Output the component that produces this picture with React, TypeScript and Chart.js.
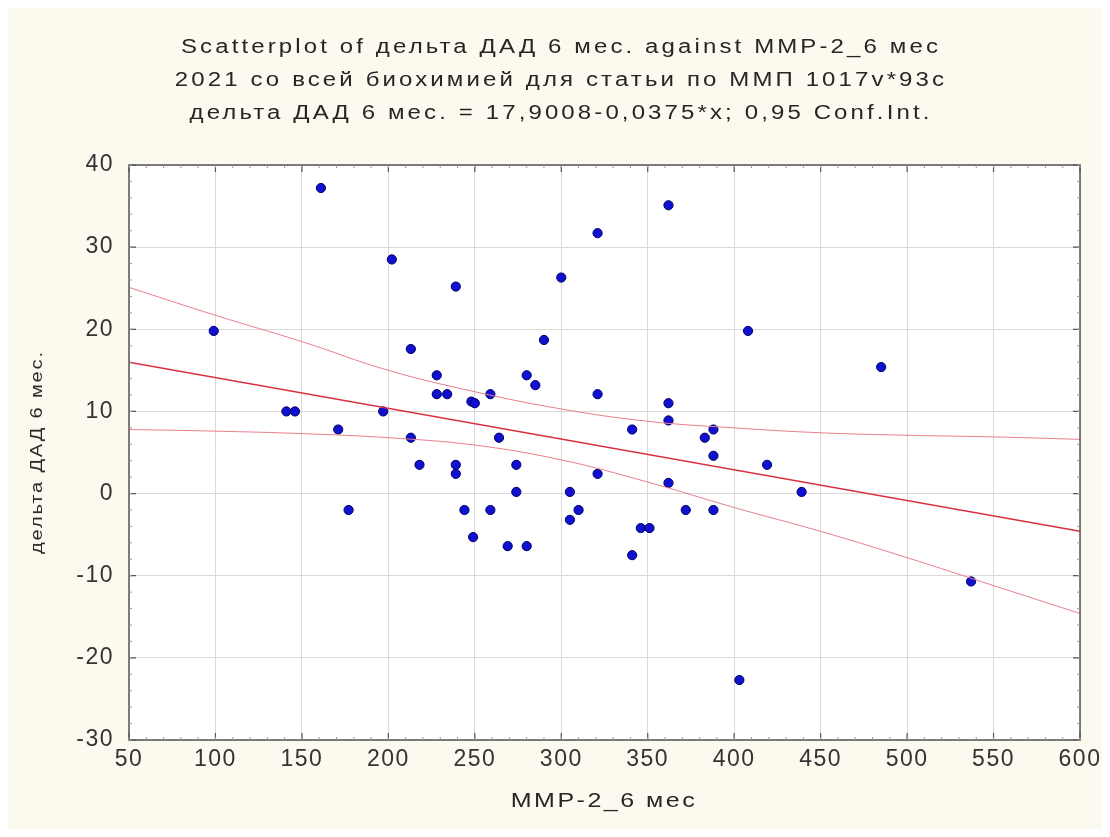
import React, { useEffect, useRef } from "react";
import { Chart, registerables } from "chart.js";

Chart.register(...registerables);

const titleLines = [
  "Scatterplot of дельта ДАД 6 мес. against MMP-2_6 мес",
  "2021 со всей биохимией для статьи по ММП 1017v*93c",
  "дельта ДАД 6 мес. = 17,9008-0,0375*x; 0,95 Conf.Int.",
];
const xAxisTitle = "MMP-2_6 мес";
const yAxisTitle = "дельта ДАД 6 мес.";

const xTicks = [50, 100, 150, 200, 250, 300, 350, 400, 450, 500, 550, 600];
const yTicks = [-30, -20, -10, 0, 10, 20, 30, 40];

const mmpValues = [
  161, 321, 202, 239, 300, 99, 213, 290, 228, 280, 285, 228, 234, 259, 321, 248, 250, 141, 146, 197,
  171, 213, 264, 321, 218, 239, 239, 274, 274, 305, 362, 408, 485, 362, 362, 341, 388, 383, 388, 419,
  362, 439, 177, 244, 259, 249, 269, 280, 305, 310, 372, 388, 346, 351, 341, 537, 403,
];
const deltaValues = [
  37.2, 31.7, 28.5, 25.2, 26.3, 19.8, 17.6, 18.7, 14.4, 14.4, 13.2, 12.1, 12.1, 12.1, 12.1, 11.2, 11.0, 10, 10, 10,
  7.8, 6.8, 6.8, 2.4, 3.5, 3.5, 2.4, 3.5, 0.2, 0.2, 35.1, 19.8, 15.4, 11.0, 8.9, 7.8, 7.8, 6.8, 4.6, 3.5,
  1.3, 0.2, -2.0, -2.0, -2.0, -5.3, -6.4, -6.4, -3.2, -2.0, -2.0, -2.0, -4.2, -4.2, -7.5, -10.7, -22.7,
];

const fitX = [50, 600];
const fitY = [16.0, -4.6];

const bandX = [50, 100, 150, 200, 250, 300, 350, 400, 450, 500, 550, 600];
const bandUpper = [25.1, 21.7, 18.5, 15.0, 12.4, 10.3, 8.8, 8.0, 7.4, 7.1, 6.9, 6.6];
const bandLower = [7.8, 7.6, 7.3, 6.8, 5.9, 4.1, 1.4, -1.7, -4.6, -7.8, -11.2, -14.6];

const W = 1102;
const H = 821;
const FONT = '"Liberation Sans", Arial, sans-serif';

const frame = {
  id: "frame",
  beforeDraw(chart: any) {
    const { ctx, chartArea: a } = chart;
    ctx.save();
    ctx.fillStyle = "#ffffff";
    ctx.fillRect(a.left, a.top, a.right - a.left, a.bottom - a.top);
    ctx.restore();
    ctx.letterSpacing = "1.5px";
  },
  afterDatasetsDraw(chart: any) {
    const { ctx, chartArea: a, scales } = chart;
    const xs = scales.x;
    const ys = scales.y;
    ctx.save();
    ctx.strokeStyle = "#555555";
    ctx.lineWidth = 1.5;
    ctx.strokeRect(a.left, a.top, a.right - a.left, a.bottom - a.top);
    ctx.lineWidth = 1.2;
    ctx.beginPath();
    for (const t of xTicks) {
      const p = xs.getPixelForValue(t);
      ctx.moveTo(p, a.bottom); ctx.lineTo(p, a.bottom - 7);
      ctx.moveTo(p, a.top); ctx.lineTo(p, a.top + 7);
    }
    for (const t of yTicks) {
      const p = ys.getPixelForValue(t);
      ctx.moveTo(a.left, p); ctx.lineTo(a.left + 7, p);
      ctx.moveTo(a.right, p); ctx.lineTo(a.right - 7, p);
    }
    ctx.stroke();
    ctx.strokeStyle = "#999999";
    ctx.lineWidth = 1;
    ctx.beginPath();
    for (let v = 50; v <= 600; v += 10) {
      const p = xs.getPixelForValue(v);
      ctx.moveTo(p, a.bottom); ctx.lineTo(p, a.bottom - 3);
      ctx.moveTo(p, a.top); ctx.lineTo(p, a.top + 3);
    }
    for (let v = -30; v <= 40; v += 2) {
      const p = ys.getPixelForValue(v);
      ctx.moveTo(a.left, p); ctx.lineTo(a.left + 3, p);
      ctx.moveTo(a.right, p); ctx.lineTo(a.right - 3, p);
    }
    ctx.stroke();
    ctx.restore();
  },
  afterDraw(chart: any) {
    chart.ctx.letterSpacing = "0px";
  },
};

export default function App() {
  const ref = useRef<HTMLCanvasElement>(null);

  useEffect(() => {
    if (!ref.current) return;
    const points = mmpValues.map((x, i) => ({ x, y: deltaValues[i] }));
    const fit = fitX.map((x, i) => ({ x, y: fitY[i] }));
    const up = bandX.map((x, i) => ({ x, y: bandUpper[i] }));
    const lo = bandX.map((x, i) => ({ x, y: bandLower[i] }));
    const chart = new Chart(ref.current, {
      type: "scatter",
      data: {
        datasets: [
          {
            type: "line",
            data: up,
            borderColor: "#e8808c",
            borderWidth: 1,
            pointRadius: 0,
            tension: 0.4,
            fill: false,
          },
          {
            type: "line",
            data: lo,
            borderColor: "#e8808c",
            borderWidth: 1,
            pointRadius: 0,
            tension: 0.4,
            fill: false,
          },
          {
            type: "line",
            data: fit,
            borderColor: "#d83040",
            borderWidth: 1.5,
            pointRadius: 0,
            fill: false,
          },
          {
            data: points,
            backgroundColor: "#1010d0",
            borderColor: "#00006a",
            borderWidth: 1,
            pointRadius: 4.6,
          },
        ],
      },
      options: {
        responsive: false,
        animation: false,
        devicePixelRatio: 1,
        layout: { padding: { top: 157, right: 30, left: 0, bottom: 0 } },
        plugins: {
          legend: { display: false },
          tooltip: { enabled: false },
          title: { display: false },
        },
        scales: {
          x: {
            type: "linear",
            min: 50,
            max: 600,
            afterFit: (s: any) => { s.height = 89; },
            afterBuildTicks: (s: any) => { s.ticks = xTicks.map((v) => ({ value: v })); },
            ticks: {
              color: "#333333",
              font: { family: FONT, size: 23 },
              padding: 6,
              maxRotation: 0,
            },
            grid: { color: "#d9d9d9", lineWidth: 1, drawTicks: false },
            border: { display: false },
          },
          y: {
            type: "linear",
            min: -30,
            max: 40,
            afterFit: (s: any) => { s.width = 121; },
            afterBuildTicks: (s: any) => { s.ticks = yTicks.map((v) => ({ value: v })); },
            ticks: {
              color: "#333333",
              font: { family: FONT, size: 23 },
              padding: 15,
            },
            grid: { color: "#d9d9d9", lineWidth: 1, drawTicks: false },
            border: { display: false },
          },
        },
      },
      plugins: [frame],
    });
    return () => chart.destroy();
  }, []);

  const textBase: React.CSSProperties = {
    position: "absolute",
    fontFamily: FONT,
    color: "#262626",
    whiteSpace: "nowrap",
  };

  return (
    <div style={{ position: "relative", width: W, height: H, background: "#fcf9ee", overflow: "hidden" }}>
      <canvas ref={ref} width={W} height={H} style={{ position: "absolute", left: 0, top: 0, width: W, height: H }} />
      <div
        style={{
          ...textBase,
          left: 553,
          top: 22,
          textAlign: "center",
          fontSize: 20,
          lineHeight: "33px",
          letterSpacing: "2.6px",
          transform: "translateX(-50%) scaleX(1.2)",
        }}
      >
        {titleLines.map((t, i) => (
          <div key={i}>{t}</div>
        ))}
      </div>
      <div
        style={{
          ...textBase,
          left: 596,
          top: 780,
          fontSize: 20,
          lineHeight: "24px",
          letterSpacing: "2px",
          transform: "translateX(-50%) scaleX(1.25)",
        }}
      >
        {xAxisTitle}
      </div>
      <div
        style={{
          ...textBase,
          left: 29,
          top: 444,
          fontSize: 16,
          letterSpacing: "1.5px",
          transform: "translate(-50%, -50%) rotate(-90deg) scaleX(1.25)",
        }}
      >
        {yAxisTitle}
      </div>
    </div>
  );
}
